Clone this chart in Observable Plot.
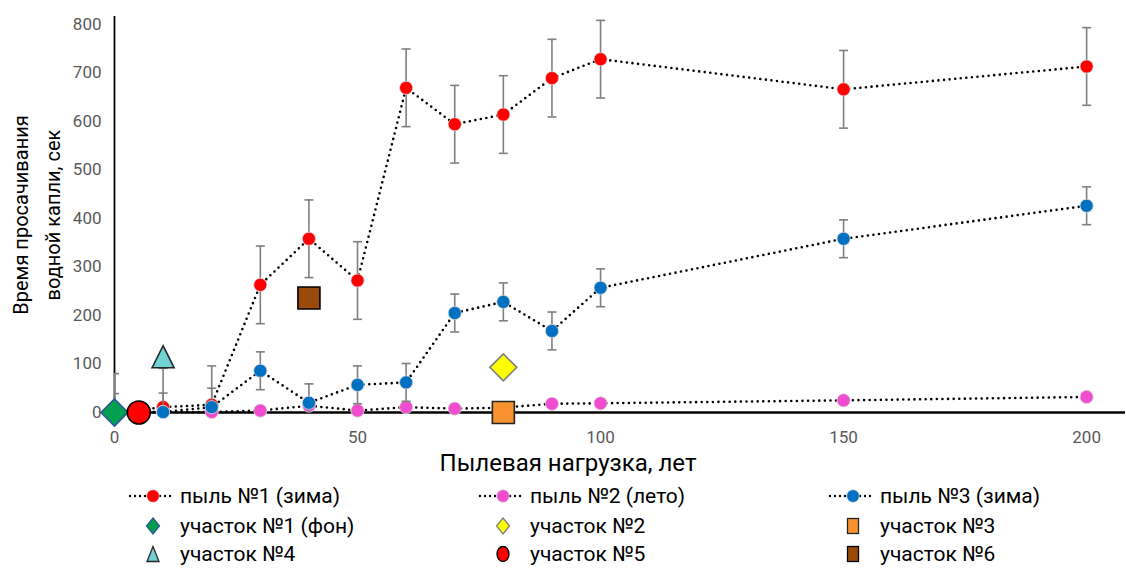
<!DOCTYPE html>
<html>
<head>
<meta charset="utf-8">
<script src="https://cdn.jsdelivr.net/npm/d3@7"></script>
<script src="https://cdn.jsdelivr.net/npm/@observablehq/plot@0.6"></script>
<style>
  html, body { margin: 0; padding: 0; background: #fff; }
  #wrap { position: relative; width: 1126px; height: 569px; font-family: Roboto, "Noto Sans", sans-serif; }
  #chart { position: absolute; left: 0; top: 0; }
  .ttl { position: absolute; color: #000; white-space: nowrap; }
  #ytitle { left: 37px; top: 215px; font-size: 20px; transform: translate(-50%, -50%) rotate(-90deg); text-align: center; line-height: 32px; }
  #xtitle { left: 568px; top: 463px; font-size: 24px; transform: translate(-50%, -50%); }
  .lg { position: absolute; display: flex; align-items: center; font-size: 21px; line-height: 24px; color: #000; white-space: nowrap; }
  .lg svg { flex: none; }
</style>
</head>
<body>
<div id="wrap">
  <div id="chart"></div>
  <div id="ytitle" class="ttl">Время просачивания<br>водной капли, сек</div>
  <div id="xtitle" class="ttl">Пылевая нагрузка, лет</div>
  <div id="legend"></div>
</div>
<script>
// ---- data ----
const xs = [0, 10, 20, 30, 40, 50, 60, 70, 80, 90, 100, 150, 200];
const dust1 = [0, 11, 16, 263, 358, 272, 669, 594, 614, 689, 728, 666, 713];
const dust1Err = [80, 80, 80, 80, 80, 80, 80, 80, 80, 80, 80, 80, 80];
const dust2 = [0, 1, 1, 4, 14, 4, 11, 8, 10, 18, 19, 25, 32];
const dust3 = [0, 1, 11, 86, 20, 57, 62, 205, 228, 168, 257, 358, 426];
const dust3Err = [39, 39, 39, 39, 39, 39, 39, 39, 39, 39, 39, 39, 39];
const seriesNames = ["пыль №1 (зима)", "пыль №2 (лето)", "пыль №3 (зима)"];
const seriesColors = ["#FF0000", "#F04CD0", "#0070C0"];

const siteNames = ["участок №1 (фон)", "участок №2", "участок №3", "участок №4", "участок №5", "участок №6"];
const siteX = [0, 80, 80, 10, 5, 40];
const siteY = [0, 93, 0, 115, 0, 236];
const siteFill = ["#00A04E", "#FFFF00", "#F7922F", "#70D2D2", "#FF0000", "#9A4A0B"];
const siteStroke = ["#2F5597", "#7F7F7F", "#262626", "#262626", "#000000", "#000000"];
const siteShape = ["diamond", "diamond", "square", "triangle", "circle", "square"];

const xTicks = [0, 50, 100, 150, 200];
const yTicks = [0, 100, 200, 300, 400, 500, 600, 700, 800];

// ---- symbols ----
const mk = fn => ({draw(ctx, size) { const r = Math.sqrt(size / Math.PI); fn(ctx, r); }});
const shapes = {
  diamond: mk((c, r) => { c.moveTo(0, -r); c.lineTo(r, 0); c.lineTo(0, r); c.lineTo(-r, 0); c.closePath(); }),
  square: mk((c, r) => { c.moveTo(-r, -r); c.lineTo(r, -r); c.lineTo(r, r); c.lineTo(-r, r); c.closePath(); }),
  triangle: mk((c, r) => { c.moveTo(0, -r); c.lineTo(r, r); c.lineTo(-r, r); c.closePath(); }),
  circle: mk((c, r) => { c.moveTo(r, 0); c.arc(0, 0, r, 0, 2 * Math.PI); c.closePath(); }),
  cap: mk((c, r) => { c.moveTo(-r, 0); c.lineTo(r, 0); })
};
const siteSize = {diamond: 13.5, square: 11, triangle: 11, circle: 11.5};

const rows = (vals, errs) => xs.map((x, i) => ({x, y: vals[i], e: errs ? errs[i] : 0}));
const s1 = rows(dust1, dust1Err), s2 = rows(dust2), s3 = rows(dust3, dust3Err);

const dotted = {x: "x", y: "y", stroke: "#000", strokeWidth: 2.6, strokeDasharray: "0 5.6", strokeLinecap: "round"};
const errMarks = (data) => [
  Plot.ruleX(data, {x: "x", y1: d => d.y - d.e, y2: d => d.y + d.e, stroke: "#7F7F7F", strokeWidth: 1.6, clip: true}),
  Plot.dot(data, {x: "x", y: d => d.y + d.e, r: 4.5, symbol: shapes.cap, stroke: "#7F7F7F", strokeWidth: 1.6, clip: true}),
  Plot.dot(data, {x: "x", y: d => d.y - d.e, r: 4.5, symbol: shapes.cap, stroke: "#7F7F7F", strokeWidth: 1.6, clip: true})
];
const seriesDots = (data, color) => Plot.dot(data, {x: "x", y: "y", r: 6.6, fill: color, stroke: "#d9d9d9", strokeWidth: 0.8});

const siteMarks = siteNames.map((n, i) => Plot.dot([i], {
  x: j => siteX[j], y: j => siteY[j], r: siteSize[siteShape[i]], symbol: shapes[siteShape[i]],
  fill: siteFill[i], stroke: siteStroke[i], strokeWidth: 1.6
}));

const chart = Plot.plot({
  width: 1126, height: 470,
  marginLeft: 114, marginRight: 1, marginTop: 16, marginBottom: 58,
  style: {fontFamily: "Roboto, 'Noto Sans', sans-serif", fontSize: "17px", color: "#595959", background: "#fff"},
  x: {domain: [0, 208]},
  y: {domain: [0, 816]},
  marks: [
    Plot.axisY(yTicks, {tickSize: 0, tickPadding: 13, fill: "#595959", label: null, fontSize: 17}),
    Plot.axisX(xTicks, {tickSize: 0, tickPadding: 18, fill: "#595959", label: null, fontSize: 17}),
    Plot.ruleX([0], {stroke: "#000", strokeWidth: 1.8}),
    Plot.ruleY([0], {stroke: "#000", strokeWidth: 2.6}),
    Plot.line(s1, dotted), ...errMarks(s1), seriesDots(s1, seriesColors[0]),
    Plot.line(s2, dotted), seriesDots(s2, seriesColors[1]),
    Plot.line(s3, dotted), ...errMarks(s3), seriesDots(s3, seriesColors[2]),
    ...siteMarks
  ]
});
document.getElementById("chart").appendChild(chart);

// ---- legend ----
const legend = document.getElementById("legend");
const colX = [128, 478, 828];
const rowY = [496, 526, 554];
const ns = "http://www.w3.org/2000/svg";
function addItem(col, row, label, drawSym) {
  const div = document.createElement("div");
  div.className = "lg";
  div.style.left = colX[col] + "px";
  div.style.top = (rowY[row] - 12) + "px";
  div.style.height = "24px";
  const svg = document.createElementNS(ns, "svg");
  svg.setAttribute("width", 50); svg.setAttribute("height", 24);
  drawSym(svg);
  div.appendChild(svg);
  const sp = document.createElement("span");
  sp.textContent = label;
  sp.style.marginLeft = "2px";
  div.appendChild(sp);
  legend.appendChild(div);
}
function el(svg, tag, attrs) {
  const e = document.createElementNS(ns, tag);
  for (const k in attrs) e.setAttribute(k, attrs[k]);
  svg.appendChild(e);
}
seriesNames.forEach((n, i) => addItem(i, 0, n, svg => {
  el(svg, "line", {x1: 2, x2: 45, y1: 12, y2: 12, stroke: "#000", "stroke-width": 2.4, "stroke-dasharray": "0 5", "stroke-linecap": "round"});
  el(svg, "circle", {cx: 25, cy: 12, r: 6.3, fill: seriesColors[i], stroke: "#d9d9d9", "stroke-width": 0.7});
}));
siteNames.forEach((n, i) => addItem(i % 3, 1 + Math.floor(i / 3), n, svg => {
  const sh = siteShape[i], cx = 25, cy = 12;
  const a = {fill: siteFill[i], stroke: siteStroke[i], "stroke-width": 1.3};
  if (sh === "diamond") el(svg, "path", {...a, d: `M${cx},${cy-8}L${cx+6.5},${cy}L${cx},${cy+8}L${cx-6.5},${cy}Z`});
  else if (sh === "square") el(svg, "rect", {...a, x: cx - 5.5, y: cy - 7.5, width: 11, height: 15});
  else if (sh === "triangle") el(svg, "path", {...a, d: `M${cx},${cy-7.5}L${cx+6},${cy+7.5}L${cx-6},${cy+7.5}Z`});
  else el(svg, "ellipse", {...a, cx, cy, rx: 6, ry: 7.5});
}));
</script>
</body>
</html>
